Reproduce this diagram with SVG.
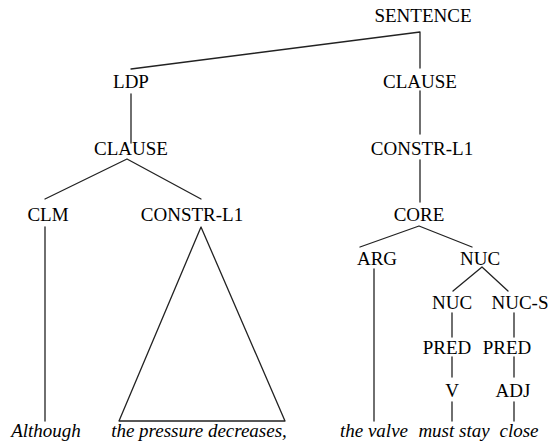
<svg xmlns="http://www.w3.org/2000/svg" width="550" height="448" viewBox="0 0 550 448">
  <style>
    .lbl { font-family: "Liberation Serif", "Times New Roman", "DejaVu Serif", serif; font-size: 19px; fill: #000; text-anchor: middle; }
    .word { font-family: "Liberation Serif", "Times New Roman", "DejaVu Serif", serif; font-size: 19px; font-style: italic; fill: #000; text-anchor: middle; }
    .edge { stroke: #222; stroke-width: 1.3; fill: none; stroke-linecap: round; stroke-linejoin: round; }
  </style>
  <rect width="550" height="448" fill="#fff"/>

  <!-- tree branches -->
  <g id="connectors">
    <polyline class="edge" points="131,69 420,32 420,68"/>
    <line class="edge" x1="131" y1="94" x2="131" y2="143"/>
    <line class="edge" x1="420" y1="91" x2="420" y2="134"/>
    <polyline class="edge" points="45,199 127,159 201,199"/>
    <line class="edge" x1="420" y1="160" x2="420" y2="202"/>
    <line class="edge" x1="45" y1="227" x2="45" y2="421"/>
    <polygon class="edge" points="201,227 119,421 285,421"/>
    <polyline class="edge" points="360,247 419,226 472,247"/>
    <line class="edge" x1="374" y1="269" x2="374" y2="421"/>
    <polyline class="edge" points="453,291 482,267 508,291"/>
    <line class="edge" x1="452" y1="313" x2="452" y2="337"/>
    <line class="edge" x1="514" y1="313" x2="514" y2="337"/>
    <line class="edge" x1="452" y1="357" x2="452" y2="377"/>
    <line class="edge" x1="514" y1="357" x2="514" y2="377"/>
    <line class="edge" x1="452" y1="402" x2="452" y2="421"/>
    <line class="edge" x1="514" y1="402" x2="514" y2="421"/>
  </g>

  <!-- category labels -->
  <g id="sentence"><text class="lbl" x="423" y="22">SENTENCE</text></g>
  <g id="ldp"><text class="lbl" x="131" y="88">LDP</text></g>
  <g id="clause-main"><text class="lbl" x="420" y="88">CLAUSE</text></g>
  <g id="clause-ldp"><text class="lbl" x="131" y="155">CLAUSE</text></g>
  <g id="constr-main"><text class="lbl" x="422" y="155">CONSTR-L1</text></g>
  <g id="clm"><text class="lbl" x="48" y="221">CLM</text></g>
  <g id="constr-ldp"><text class="lbl" x="192" y="221">CONSTR-L1</text></g>
  <g id="core"><text class="lbl" x="419" y="221">CORE</text></g>
  <g id="arg"><text class="lbl" x="377" y="265">ARG</text></g>
  <g id="nuc-top"><text class="lbl" x="480" y="265">NUC</text></g>
  <g id="nuc"><text class="lbl" x="452" y="309">NUC</text></g>
  <g id="nuc-s"><text class="lbl" x="520" y="309">NUC-S</text></g>
  <g id="pred-v"><text class="lbl" x="447" y="354">PRED</text></g>
  <g id="pred-adj"><text class="lbl" x="507" y="354">PRED</text></g>
  <g id="v"><text class="lbl" x="452" y="397">V</text></g>
  <g id="adj"><text class="lbl" x="513" y="397">ADJ</text></g>

  <!-- terminal words -->
  <g id="words">
    <text class="word" x="46" y="437">Although</text>
    <text class="word" x="199" y="437">the pressure decreases,</text>
    <text class="word" x="374" y="437">the valve</text>
    <text class="word" x="454" y="437">must stay</text>
    <text class="word" x="519" y="437">close</text>
  </g>
</svg>
